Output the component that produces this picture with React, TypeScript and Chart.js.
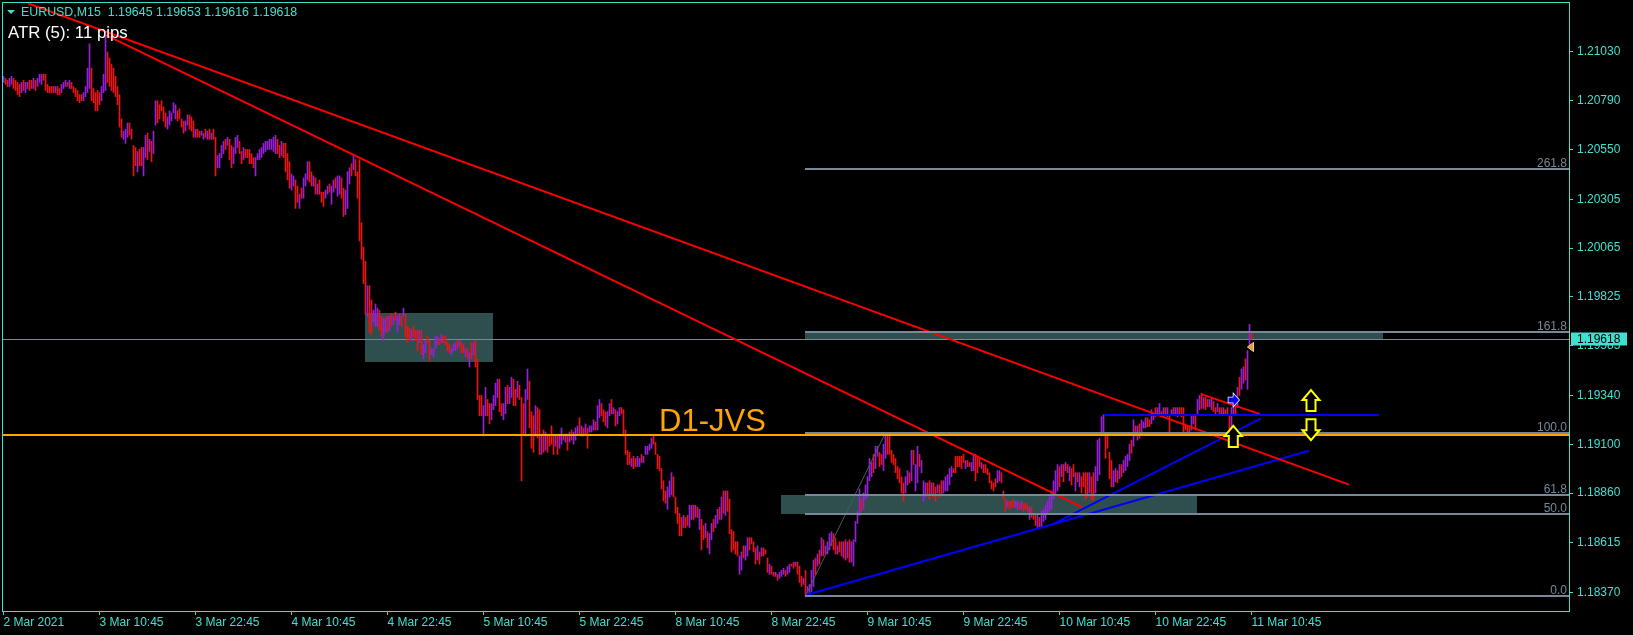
import React, { useEffect, useRef } from "react";
import { Chart, registerables } from "chart.js";
Chart.register(...registerables);

// ---------------- DATA ----------------
const headerSymbol = "EURUSD,M15";
const headerOHLC = ["1.19645", "1.19653", "1.19616", "1.19618"];
const atrText = "ATR (5): 11 pips";
const bidPrice = 1.19618;

const timeTickBars = [0, 48, 96, 144, 192, 240, 288, 336, 384, 432, 480, 528, 576, 624];
const timeLabels = ["2 Mar 2021", "3 Mar 10:45", "3 Mar 22:45", "4 Mar 10:45", "4 Mar 22:45", "5 Mar 10:45", "5 Mar 22:45", "8 Mar 10:45", "8 Mar 22:45", "9 Mar 10:45", "9 Mar 22:45", "10 Mar 10:45", "10 Mar 22:45", "11 Mar 10:45"];
const priceTicks = [1.2103, 1.2079, 1.2055, 1.20305, 1.20065, 1.19825, 1.19585, 1.1934, 1.191, 1.1886, 1.18615, 1.1837];

// M15 bars (high / low), index 0 = 2 Mar 22:45 ... 624 = 11 Mar 10:45
const barHigh = [
  // 0-103
  1.2091,1.2090,1.2089,1.2090,1.2091,1.2090,1.2089,1.2088,1.2087,1.2088,
  1.2089,1.2088,1.2088,1.2089,1.2089,1.2090,1.2089,1.2090,1.2092,1.2092,
  1.2092,1.2092,1.2087,1.2086,1.2086,1.2086,1.2086,1.2086,1.2085,1.2087,
  1.2088,1.2089,1.2088,1.2089,1.2088,1.2086,1.2085,1.2084,1.2082,1.2082,
  1.2083,1.2086,1.2095,1.2107,1.2095,1.2085,1.2083,1.2084,1.2083,1.2086,
  1.2092,1.2111,1.2103,1.2100,1.2097,1.2095,1.2091,1.2086,1.2082,1.2070,
  1.2064,1.2065,1.2068,1.2068,1.2065,1.2057,1.2056,1.2054,1.2055,1.2056,
  1.2056,1.2062,1.2063,1.2060,1.2059,1.2064,1.2079,1.2079,1.2077,1.2079,
  1.2076,1.2073,1.2071,1.2074,1.2073,1.2078,1.2077,1.2074,1.2075,1.2070,
  1.2069,1.2069,1.2072,1.2072,1.2071,1.2069,1.2065,1.2065,1.2064,1.2064,
  1.2063,1.2065,1.2064,1.2065,
  // 104-208
  1.2063,1.2065,1.2061,1.2052,1.2053,1.2057,1.2059,1.2060,1.2061,1.2060,
  1.2057,1.2056,1.2061,1.2062,1.2059,1.2054,1.2056,1.2055,1.2055,1.2055,
  1.2053,1.2051,1.2051,1.2053,1.2055,1.2056,1.2058,1.2059,1.2059,1.2060,
  1.2060,1.2061,1.2062,1.2060,1.2057,1.2059,1.2058,1.2058,1.2053,1.2049,
  1.2043,1.2042,1.2040,1.2037,1.2033,1.2036,1.2041,1.2043,1.2049,1.2049,
  1.2044,1.2042,1.2041,1.2038,1.2040,1.2034,1.2034,1.2035,1.2037,1.2038,
  1.2037,1.2040,1.2041,1.2042,1.2042,1.2041,1.2036,1.2035,1.2044,1.2046,
  1.2048,1.2052,1.2050,1.2044,1.2050,1.2019,1.2007,1.2000,1.1988,1.1988,
  1.1981,1.1976,1.1979,1.1977,1.1976,1.1973,1.1972,1.1972,1.1973,1.1973,
  1.1974,1.1973,1.1975,1.1973,1.1974,1.1973,1.1977,1.1974,1.1968,1.1967,
  1.1966,1.1968,1.1966,1.1966,1.1966,
  // 209-313
  1.1966,1.1959,1.1961,1.1963,1.1961,1.1957,1.1957,1.1963,1.1963,1.1962,
  1.1964,1.1963,1.1963,1.1960,1.1959,1.1957,1.1959,1.1960,1.1961,1.1961,
  1.1960,1.1959,1.1957,1.1957,1.1955,1.1960,1.1960,1.1961,1.1952,1.1934,
  1.1934,1.1929,1.1938,1.1932,1.1930,1.1930,1.1934,1.1940,1.1942,1.1942,
  1.1930,1.1930,1.1938,1.1939,1.1938,1.1943,1.1942,1.1937,1.1941,1.1939,
  1.1933,1.1930,1.1937,1.1947,1.1941,1.1926,1.1924,1.1929,1.1928,1.1927,
  1.1915,1.1917,1.1916,1.1915,1.1915,1.1919,1.1915,1.1914,1.1915,1.1915,
  1.1918,1.1915,1.1915,1.1915,1.1916,1.1917,1.1916,1.1918,1.1919,1.1923,
  1.1919,1.1918,1.1920,1.1918,1.1919,1.1919,1.1922,1.1921,1.1929,1.1932,
  1.1930,1.1927,1.1926,1.1926,1.1930,1.1932,1.1928,1.1927,1.1926,1.1928,
  1.1928,1.1927,1.1917,1.1907,1.1906,
  // 314-418
  1.1903,1.1904,1.1903,1.1904,1.1903,1.1905,1.1904,1.1909,1.1909,1.1910,
  1.1913,1.1914,1.1911,1.1905,1.1904,1.1898,1.1892,1.1887,1.1889,1.1892,
  1.1896,1.1894,1.1884,1.1879,1.1876,1.1874,1.1875,1.1874,1.1875,1.1880,
  1.1880,1.1880,1.1880,1.1879,1.1878,1.1873,1.1870,1.1871,1.1867,1.1866,
  1.1871,1.1873,1.1875,1.1878,1.1879,1.1884,1.1887,1.1887,1.1887,1.1883,
  1.1868,1.1867,1.1862,1.1862,1.1855,1.1857,1.1860,1.1860,1.1864,1.1864,
  1.1864,1.1862,1.1859,1.1860,1.1857,1.1859,1.1859,1.1858,1.1854,1.1851,
  1.1850,1.1847,1.1847,1.1846,1.1847,1.1848,1.1849,1.1848,1.1850,1.1851,
  1.1851,1.1852,1.1852,1.1852,1.1850,1.1845,1.1844,1.1848,1.1840,1.1841,
  1.1848,1.1853,1.1854,1.1856,1.1858,1.1864,1.1863,1.1860,1.1862,1.1866,
  1.1867,1.1866,1.1864,1.1860,1.1862,
  // 419-425
  1.1862,1.1862,1.1863,1.1862,1.1863,1.1862,1.1863,
  // 426-523
  1.1872,1.1877,1.1888,1.1883,1.1886,1.1890,1.1894,1.1903,1.1901,1.1905,
  1.1909,1.1909,1.1906,1.1905,1.1910,1.19157,1.1915,1.1915,1.1907,1.1905,
  1.1903,1.1899,1.1898,1.1894,1.1891,1.1894,1.1897,1.1896,1.1907,1.1907,
  1.1900,1.1909,1.1905,1.1902,1.1892,1.1891,1.1891,1.1892,1.1891,1.1891,
  1.1889,1.1890,1.1890,1.1892,1.1892,1.1894,1.1895,1.1898,1.1899,1.1898,
  1.1904,1.1904,1.1904,1.1904,1.1905,1.1902,1.1902,1.1901,1.1901,1.1905,
  1.1905,1.1904,1.1903,1.1901,1.1900,1.1900,1.1898,1.1896,1.1892,1.1891,
  1.1893,1.1897,1.1897,1.1896,1.1887,1.1883,1.1882,1.1882,1.1882,1.1883,
  1.1882,1.1882,1.1881,1.1882,1.1881,1.1881,1.1880,1.1879,1.1879,1.1876,
  1.1875,1.1875,1.1874,1.1877,1.1878,1.1880,1.1882,1.1884,
  // 524-528
  1.1887,1.1892,1.1897,1.1900,1.1899,
  // 529-624
  1.1900,1.1900,1.1901,1.1900,1.1899,1.1898,1.1900,1.1896,1.1896,1.1896,
  1.1894,1.1896,1.1896,1.1896,1.1896,1.1894,1.1896,1.1899,1.1912,1.1913,
  1.19235,1.19245,1.1915,1.1915,1.1906,1.1902,1.1897,1.1898,1.1897,1.1900,
  1.1900,1.1902,1.1904,1.1905,1.1910,1.1912,1.1922,1.1919,1.1919,1.1920,
  1.1922,1.1921,1.1923,1.1923,1.1922,1.1927,1.1925,1.1928,1.1928,1.1930,
  1.1926,1.1928,1.1928,1.1928,1.1924,1.1927,1.1928,1.1928,1.1928,1.1928,
  1.1928,1.1928,1.1920,1.1919,1.1919,1.1924,1.1924,1.1924,1.1932,1.1934,
  1.1935,1.1933,1.1933,1.1932,1.1932,1.1933,1.1931,1.1928,1.1930,1.1928,
  1.1928,1.1928,1.1927,1.1928,1.1924,1.1928,1.1930,1.1931,1.1938,1.1943,
  1.1947,1.1948,1.1952,1.1956,1.1969,1.19653,
];

const barLow = [
  // 0-103
  1.2088,1.2087,1.2086,1.2086,1.2087,1.2085,1.2084,1.2082,1.2081,1.2083,
  1.2084,1.2083,1.2085,1.2084,1.2085,1.2085,1.2084,1.2086,1.2088,1.2087,
  1.2089,1.2084,1.2083,1.2083,1.2083,1.2083,1.2083,1.2082,1.2082,1.2083,
  1.2085,1.2086,1.2086,1.2085,1.2085,1.2083,1.2081,1.2079,1.2078,1.2079,
  1.2079,1.2081,1.2083,1.2085,1.2079,1.2078,1.2074,1.2074,1.2077,1.2079,
  1.2083,1.2084,1.2088,1.2086,1.2084,1.2083,1.2081,1.2077,1.2066,1.2061,
  1.2060,1.2058,1.2061,1.2062,1.2060,1.2042,1.2047,1.2044,1.2047,1.2047,
  1.2042,1.2051,1.2050,1.2054,1.2049,1.2053,1.2067,1.2068,1.2070,1.2074,
  1.2069,1.2066,1.2065,1.2067,1.2069,1.2073,1.2070,1.2069,1.2070,1.2066,
  1.2063,1.2064,1.2067,1.2065,1.2064,1.2061,1.2061,1.2061,1.2061,1.2062,
  1.2060,1.2061,1.2060,1.2060,
  // 104-208
  1.2060,1.2060,1.2042,1.2046,1.2046,1.2051,1.2053,1.2055,1.2057,1.2050,
  1.2046,1.2048,1.2053,1.2056,1.2053,1.2048,1.2050,1.2051,1.2051,1.2048,
  1.2048,1.2046,1.2042,1.2050,1.2050,1.2051,1.2053,1.2054,1.2055,1.2055,
  1.2055,1.2054,1.2053,1.2053,1.2051,1.2052,1.2051,1.2044,1.2040,1.2036,
  1.2035,1.2037,1.2026,1.2029,1.2026,1.2031,1.2031,1.2037,1.2040,1.2039,
  1.2037,1.2037,1.2033,1.2033,1.2033,1.2029,1.2027,1.2031,1.2033,1.2034,
  1.2028,1.2034,1.2036,1.2032,1.2033,1.2031,1.2022,1.2023,1.2026,1.2038,
  1.2042,1.2045,1.2042,1.2031,1.2010,1.2001,1.1989,1.1974,1.1973,1.1965,
  1.1964,1.1970,1.1968,1.1968,1.1966,1.1963,1.1961,1.1965,1.1965,1.1966,
  1.1968,1.1969,1.1971,1.1965,1.1969,1.1968,1.1973,1.1963,1.1960,1.1961,
  1.1961,1.1963,1.1961,1.1956,1.1960,
  // 209-313
  1.1954,1.1952,1.1955,1.1960,1.1951,1.1954,1.1953,1.1957,1.1959,1.1959,
  1.1960,1.1960,1.1959,1.1956,1.1955,1.1954,1.1956,1.1956,1.1957,1.1958,
  1.1955,1.1955,1.1953,1.1952,1.1948,1.1952,1.1954,1.1948,1.1932,1.1924,
  1.1924,1.1914,1.1924,1.1924,1.1920,1.1922,1.1927,1.1929,1.1933,1.1926,
  1.1924,1.1922,1.1925,1.1930,1.1930,1.1933,1.1929,1.1929,1.1933,1.1932,
  1.1892,1.1915,1.1914,1.1932,1.1918,1.1908,1.1906,1.1914,1.1913,1.1905,
  1.1905,1.1906,1.1907,1.1906,1.1909,1.1910,1.1905,1.1909,1.1905,1.1908,
  1.1910,1.1912,1.1911,1.1907,1.1911,1.1912,1.1910,1.1912,1.1915,1.1915,
  1.1914,1.1914,1.1915,1.1908,1.1916,1.1916,1.1917,1.1917,1.1917,1.1923,
  1.1924,1.1921,1.1919,1.1918,1.1924,1.1925,1.1925,1.1919,1.1920,1.1924,
  1.1925,1.1914,1.1905,1.1900,1.1900,
  // 314-418
  1.1899,1.1898,1.1899,1.1899,1.1899,1.1901,1.1901,1.1905,1.1905,1.1907,
  1.1908,1.1910,1.1905,1.1898,1.1897,1.1888,1.1882,1.1881,1.1878,1.1884,
  1.1885,1.1884,1.1876,1.1871,1.1865,1.1865,1.1869,1.1869,1.1870,1.1869,
  1.1873,1.1873,1.1874,1.1874,1.1868,1.1858,1.1863,1.1864,1.1859,1.1856,
  1.1863,1.1867,1.1869,1.1871,1.1873,1.1873,1.1876,1.1875,1.1877,1.1866,
  1.1857,1.1858,1.1856,1.1855,1.1846,1.1848,1.1854,1.1853,1.1855,1.1858,
  1.1861,1.1857,1.1851,1.1853,1.1851,1.1855,1.1855,1.1856,1.1847,1.1846,
  1.1846,1.1845,1.1845,1.1843,1.1844,1.1845,1.1846,1.1845,1.1846,1.1847,
  1.1850,1.1849,1.1850,1.1846,1.1842,1.1840,1.1841,1.18354,1.1837,1.1837,
  1.18375,1.1840,1.1846,1.1850,1.1851,1.1855,1.1855,1.1856,1.1856,1.1858,
  1.1860,1.1858,1.1856,1.1856,1.1857,
  // 419-425
  1.1855,1.1854,1.1853,1.1854,1.1852,1.1852,1.1850,
  // 426-523
  1.1862,1.1871,1.1875,1.1877,1.1878,1.1883,1.1884,1.1892,1.1894,1.1896,
  1.1898,1.1904,1.1899,1.1900,1.1897,1.1903,1.1905,1.1905,1.1901,1.1900,
  1.1896,1.1893,1.1891,1.1886,1.1882,1.1886,1.1890,1.1891,1.1892,1.1900,
  1.1887,1.1891,1.1899,1.1896,1.1882,1.1884,1.1885,1.1883,1.1885,1.1884,
  1.1882,1.1886,1.1884,1.1885,1.1886,1.1887,1.1887,1.1890,1.1894,1.1896,
  1.1896,1.1899,1.1899,1.1898,1.1901,1.1898,1.1899,1.1899,1.1897,1.1897,
  1.1892,1.1896,1.1899,1.1898,1.1896,1.1896,1.1895,1.1891,1.1888,1.1887,
  1.1889,1.1891,1.1892,1.1891,1.1883,1.1877,1.1879,1.1878,1.1879,1.1879,
  1.1879,1.1878,1.1878,1.1878,1.1877,1.1878,1.1877,1.1873,1.1874,1.1873,
  1.1870,1.1869,1.1869,1.1869,1.1872,1.1873,1.1876,1.1877,
  // 524-528
  1.1878,1.1883,1.1886,1.1887,1.1889,
  // 529-624
  1.1894,1.18915,1.1897,1.1896,1.1892,1.1890,1.1894,1.1887,1.18915,1.1889,
  1.1886,1.1889,1.18825,1.1884,1.1886,1.18825,1.18825,1.1886,1.1892,1.1895,
  1.1914,1.19145,1.1903,1.1908,1.1893,1.1889,1.1889,1.18915,1.1891,1.1893,
  1.1894,1.1896,1.1897,1.1899,1.1902,1.19055,1.1909,1.1914,1.1912,1.1913,
  1.1915,1.1918,1.1918,1.19186,1.19186,1.1920,1.1922,1.19235,1.1924,1.1925,
  1.19235,1.1924,1.1925,1.19235,1.1916,1.1924,1.1924,1.1924,1.19235,1.1924,
  1.19235,1.1916,1.1917,1.1916,1.1916,1.1917,1.1920,1.1917,1.1924,1.1927,
  1.19276,1.19276,1.1927,1.19284,1.19284,1.1927,1.1926,1.1924,1.1926,1.1925,
  1.1924,1.1924,1.1924,1.1924,1.1916,1.1918,1.1924,1.1924,1.1928,1.1934,
  1.1937,1.1940,1.19415,1.1937,1.1958,1.19616,
];

// P = up bar (violet), R = down bar (red)
const barDir = [
  "PRRPPRRRRP", "RPPRRPRPPP", "RRRRRRPRRP", "PPRPRRRRRR", "PPPPRRRRRP",
  "PPRRRRRRRR", "PPPRRRRPRR", "PPRPRPPRRR", "RRPPPPPRRR", "RPPRRRPRRP", "PRPR",
  "PRRPPPPRPR", "RPPPRRPRRR", "RRPPPPPPPP", "PPPRRPRRRR", "PPRRPRPPPR",
  "RPRPRRRPPR", "PPRPPRRPPP", "RPRRRRRRPR", "RPPPRRPPRP", "RPRPPRPRRR", "PRRRP",
  "RPPRRPPPPR", "PRRRRPPPRP", "RRPRPRPRRR", "RPPRRPPPPR", "RPPRPPRRPR",
  "RRPPRRRPRR", "PRPRRRRPRP", "PRPRPRPPPR", "PRPRPPPRPP", "RRRPPRPRPP", "RRRRR",
  "PRRPPRPPPP", "PRRRRRRRPP", "PRRRRRPRRP", "PRPRPRRPRP", "PRPPRPRPRR",
  "RRRRPPRPPR", "RRRPRPRRRP", "RRPRPPPRPP", "RRPRRRPRPP", "PPRPRPRPPP", "PRRPR",
  "RPRPRPP",
  "PPPRPPPPPR", "PPRRPPRRRR", "RRRRRPPRPR", "PPRPPPRRPR", "RPRRPPPPPR",
  "RRRRRPRRPP", "RRRPRRRRRR", "RPPRRRPRRR", "PPRPRRRPRR", "RPRPPPPP",
  "PPPPR",
  "PRPRPRRPRP", "RRRRPRRPPP", "PPRRRRPPRP", "RPPPPRPRPR", "PPPRRPPRPP",
  "RPRPRPRPPR", "RRRRRPPRPP", "RPRRPPRRPR", "RPRRRPPRPR", "PPRPPR",
].join("");

// Fibonacci retracement (from the 8 Mar low to the 9 Mar high)
const fibLowPrice = 1.18354;
const fibHighPrice = 1.19157;
const fibStartBar = 400.75;
const fibLevels = [0, 50, 61.8, 100, 161.8, 261.8];
const fibAnchorBars = [401, 441];

// Horizontal level "D1-JVS"
const jvsPrice = 1.19145;
const jvsText = "D1-JVS";
const jvsTextBar = 327.75;
const jvsTextPrice = 1.19167;

// Rectangles (start bar, end bar, top price, bottom price)
const rectStartBar = [180.75, 400.75, 388.75];
const rectEndBar = [244.75, 689.75, 596.75];
const rectTopPrice = [1.19745, 1.19653, 1.1885];
const rectBottomPrice = [1.19504, 1.19618, 1.18756];

// Trend lines: [bar, price] pairs
const redTrendA = [[12.25, 1.21269], [672.75, 1.18901]];
const redTrendB = [[51.25, 1.21113], [539.25, 1.18791]];
const redTrendShort = [[599.1, 1.19345], [628.25, 1.19248]];
const blueTrendSteep = [[524.75, 1.18707], [628.75, 1.19227]];
const blueTrendLong = [[401.25, 1.18358], [652.75, 1.19068]];
const blueHorizontal = [[550.25, 1.19245], [687.75, 1.19245]];

// Markers: [bar, price]
const yellowUpArrows = [[653.75, 1.19312], [614.9, 1.19136]];
const yellowDownArrows = [[653.75, 1.19174]];
const blueArrowMarks = [[614.75, 1.19317]];
const orangeTriangleMarks = [[623.75, 1.19579]];

// ---------------- STYLE ----------------
const FONT = "'Liberation Sans', Arial, sans-serif";
const AXIS = "#40E0D0";
const BAR_UP = "#9420D8";
const BAR_DOWN = "#EB1414";
const RED = "#FF0000";
const BLUE = "#0000FF";
const FIB = "#778899";
const RECT = "#2F4F4F";
const ORANGE = "#FFA500";
const Y_MIN = 1.182795;
const Y_MAX = 1.2127057;

const mtPlugin = {
  id: "mtPlugin",
  beforeDraw(chart: any) {
    const ctx = chart.ctx;
    ctx.save();
    ctx.fillStyle = "#000";
    ctx.fillRect(0, 0, chart.width, chart.height);
    ctx.restore();
  },
  beforeDatasetsDraw(chart: any) {
    const { ctx, chartArea: ca, scales } = chart;
    const x = scales.x, y = scales.y;
    ctx.save();
    ctx.beginPath();
    ctx.rect(ca.left, ca.top, ca.right - ca.left, ca.bottom - ca.top);
    ctx.clip();
    ctx.fillStyle = RECT;
    for (let k = 0; k < rectStartBar.length; k++) {
      const x0 = Math.round(x.getPixelForValue(rectStartBar[k]));
      const x1 = Math.round(x.getPixelForValue(rectEndBar[k]));
      const y0 = Math.round(y.getPixelForValue(rectTopPrice[k]));
      const y1 = Math.round(y.getPixelForValue(rectBottomPrice[k]));
      ctx.fillRect(x0, y0, x1 - x0, y1 - y0);
    }
    // bid line
    const by = Math.round(y.getPixelForValue(bidPrice));
    ctx.fillStyle = FIB;
    ctx.fillRect(ca.left, by, ca.right - ca.left, 1);
    ctx.restore();
  },
  afterDatasetsDraw(chart: any) {
    const { ctx, chartArea: ca, scales } = chart;
    const x = scales.x, y = scales.y;
    ctx.save();
    ctx.beginPath();
    ctx.rect(ca.left, ca.top, ca.right - ca.left, ca.bottom - ca.top);
    ctx.clip();
    // fib levels
    const fx = Math.round(x.getPixelForValue(fibStartBar));
    ctx.font = `12px ${FONT}`;
    ctx.textAlign = "right";
    ctx.textBaseline = "alphabetic";
    for (const lv of fibLevels) {
      const p = fibLowPrice + (lv / 100) * (fibHighPrice - fibLowPrice);
      const ly = Math.round(y.getPixelForValue(p));
      ctx.fillStyle = FIB;
      ctx.fillRect(fx, ly - 1, ca.right - fx, 2);
      ctx.fillText(lv.toFixed(1), ca.right - 2, ly - 2);
    }
    // D1-JVS level
    const jy = Math.round(y.getPixelForValue(jvsPrice));
    ctx.fillStyle = ORANGE;
    ctx.fillRect(ca.left, jy - 1, ca.right - ca.left, 2);
    ctx.font = `31px ${FONT}`;
    ctx.textAlign = "left";
    ctx.fillText(jvsText, x.getPixelForValue(jvsTextBar), y.getPixelForValue(jvsTextPrice));
    // blue horizontal trend
    const hy = Math.round(y.getPixelForValue(blueHorizontal[0][1]));
    const hx0 = x.getPixelForValue(blueHorizontal[0][0]);
    const hx1 = x.getPixelForValue(blueHorizontal[1][0]);
    ctx.fillStyle = BLUE;
    ctx.fillRect(hx0, hy - 1, hx1 - hx0, 2);

    // yellow arrows
    const arrow = (cx: number, cy: number, up: boolean) => {
      const s = up ? 1 : -1;
      ctx.beginPath();
      ctx.moveTo(cx, cy - 11 * s);
      ctx.lineTo(cx + 8.5, cy - 1 * s);
      ctx.lineTo(cx + 4.5, cy - 1 * s);
      ctx.lineTo(cx + 4.5, cy + 10 * s);
      ctx.lineTo(cx - 4.5, cy + 10 * s);
      ctx.lineTo(cx - 4.5, cy - 1 * s);
      ctx.lineTo(cx - 8.5, cy - 1 * s);
      ctx.closePath();
      ctx.fillStyle = "#000";
      ctx.fill();
      ctx.strokeStyle = "#FFFF00";
      ctx.lineWidth = 2;
      ctx.stroke();
    };
    for (const [b, p] of yellowUpArrows) arrow(x.getPixelForValue(b), y.getPixelForValue(p), true);
    for (const [b, p] of yellowDownArrows) arrow(x.getPixelForValue(b), y.getPixelForValue(p), false);
    // blue arrow
    for (const [b, p] of blueArrowMarks) {
      const cx = Math.round(x.getPixelForValue(b)), cy = Math.round(y.getPixelForValue(p));
      ctx.beginPath();
      ctx.moveTo(cx - 4.5, cy - 2.5);
      ctx.lineTo(cx + 0.5, cy - 2.5);
      ctx.lineTo(cx + 0.5, cy - 6);
      ctx.lineTo(cx + 6, cy);
      ctx.lineTo(cx + 0.5, cy + 6);
      ctx.lineTo(cx + 0.5, cy + 2.5);
      ctx.lineTo(cx - 4.5, cy + 2.5);
      ctx.closePath();
      ctx.strokeStyle = "#fff";
      ctx.lineWidth = 1.5;
      ctx.stroke();
      ctx.fillStyle = BLUE;
      ctx.fill();
    }
    for (const [b, p] of orangeTriangleMarks) {
      const cx = Math.round(x.getPixelForValue(b)), cy = Math.round(y.getPixelForValue(p));
      ctx.beginPath();
      ctx.moveTo(cx - 3.5, cy);
      ctx.lineTo(cx + 2.5, cy - 4.5);
      ctx.lineTo(cx + 2.5, cy + 4.5);
      ctx.closePath();
      ctx.strokeStyle = "#fff";
      ctx.lineWidth = 1;
      ctx.stroke();
      ctx.fillStyle = "#E8A030";
      ctx.fill();
    }
    ctx.restore();
  },
  afterDraw(chart: any) {
    const { ctx, chartArea: ca, scales } = chart;
    const y = scales.y;
    ctx.save();
    // frame
    ctx.strokeStyle = AXIS;
    ctx.lineWidth = 1;
    ctx.strokeRect(2.5, 2.5, ca.right - 2, ca.bottom - 2);
    // header
    ctx.fillStyle = AXIS;
    ctx.beginPath();
    ctx.moveTo(7, 10);
    ctx.lineTo(15, 10);
    ctx.lineTo(11, 14);
    ctx.closePath();
    ctx.fill();
    ctx.font = `12.4px ${FONT}`;
    ctx.textAlign = "left";
    ctx.textBaseline = "middle";
    ctx.fillText(`${headerSymbol}  ${headerOHLC.join(" ")}`, 21, 13);
    ctx.fillStyle = "#fff";
    ctx.font = `16.8px ${FONT}`;
    ctx.textBaseline = "alphabetic";
    ctx.fillText(atrText, 8, 38);
    // bid price box
    const by = Math.round(y.getPixelForValue(bidPrice));
    ctx.fillStyle = AXIS;
    ctx.fillRect(ca.right + 2, by - 6.5, 56, 13);
    ctx.fillStyle = "#000";
    ctx.font = `12px ${FONT}`;
    ctx.textBaseline = "middle";
    ctx.fillText(bidPrice.toFixed(5), ca.right + 8, by + 0.5);
    ctx.restore();
  },
};

const lineDs = (pts: number[][], color: string, width: number) => ({
  type: "line" as const,
  data: pts.map(([b, p]) => ({ x: b, y: p })),
  borderColor: color,
  borderWidth: width,
  pointRadius: 0,
  fill: false,
  tension: 0,
  order: 1,
});

export default function App() {
  const ref = useRef<HTMLCanvasElement>(null);
  useEffect(() => {
    const barData = barHigh.map((h, i) => ({ x: i, y: [barLow[i], h] }));
    const barColors = barHigh.map((_, i) => (barDir[i] === "P" ? BAR_UP : BAR_DOWN));
    const chart = new Chart(ref.current as HTMLCanvasElement, {
      type: "line",
      data: {
        datasets: [
          {
            type: "bar",
            data: barData as any,
            backgroundColor: barColors,
            borderWidth: 0,
            barThickness: 1,
            grouped: false,
            order: 10,
          } as any,
          lineDs([[fibAnchorBars[0], fibLowPrice], [fibAnchorBars[1], fibHighPrice]], "#3F5F5F", 1),
          lineDs(redTrendA, RED, 2),
          lineDs(redTrendB, RED, 2),
          lineDs(redTrendShort, RED, 2),
          lineDs(blueTrendSteep, BLUE, 2),
          lineDs(blueTrendLong, BLUE, 2),
        ],
      },
      options: {
        responsive: false,
        animation: false,
        devicePixelRatio: 1,
        events: [],
        layout: { padding: { top: 3, left: 3, right: 0, bottom: 0 }, autoPadding: false } as any,
        plugins: { legend: { display: false }, tooltip: { enabled: false } },
        scales: {
          x: {
            type: "linear",
            min: -0.25,
            max: 782.75,
            offset: false,
            position: "bottom",
            border: { display: false },
            grid: { display: true, drawOnChartArea: false, drawTicks: true, tickLength: 4, color: AXIS, offset: false },
            ticks: {
              autoSkip: false,
              maxRotation: 0,
              minRotation: 0,
              align: "start",
              padding: 0,
              color: AXIS,
              font: { family: FONT, size: 12 },
              callback: (_v: any, idx: number) => timeLabels[idx],
            },
            afterBuildTicks: (s: any) => {
              s.ticks = timeTickBars.map((v) => ({ value: v }));
            },
            afterFit: (s: any) => {
              s.height = 24;
              s.paddingLeft = 0;
              s.paddingRight = 0;
            },
          } as any,
          y: {
            type: "linear",
            position: "right",
            min: Y_MIN,
            max: Y_MAX,
            border: { display: false },
            grid: { display: true, drawOnChartArea: false, drawTicks: true, tickLength: 4, color: AXIS },
            ticks: {
              padding: 4,
              color: AXIS,
              font: { family: FONT, size: 12 },
              callback: (v: any) => Number(v).toFixed(5),
            },
            afterBuildTicks: (s: any) => {
              s.ticks = priceTicks.map((v) => ({ value: v }));
            },
            afterFit: (s: any) => {
              s.width = 64;
              s.paddingTop = 0;
              s.paddingBottom = 0;
            },
          } as any,
        },
      },
      plugins: [mtPlugin],
    });
    return () => chart.destroy();
  }, []);
  return (
    <div style={{ position: "fixed", left: 0, top: 0, width: 1633, height: 635, background: "#000" }}>
      <canvas ref={ref} width={1633} height={635} style={{ display: "block", width: 1633, height: 635 }} />
    </div>
  );
}
